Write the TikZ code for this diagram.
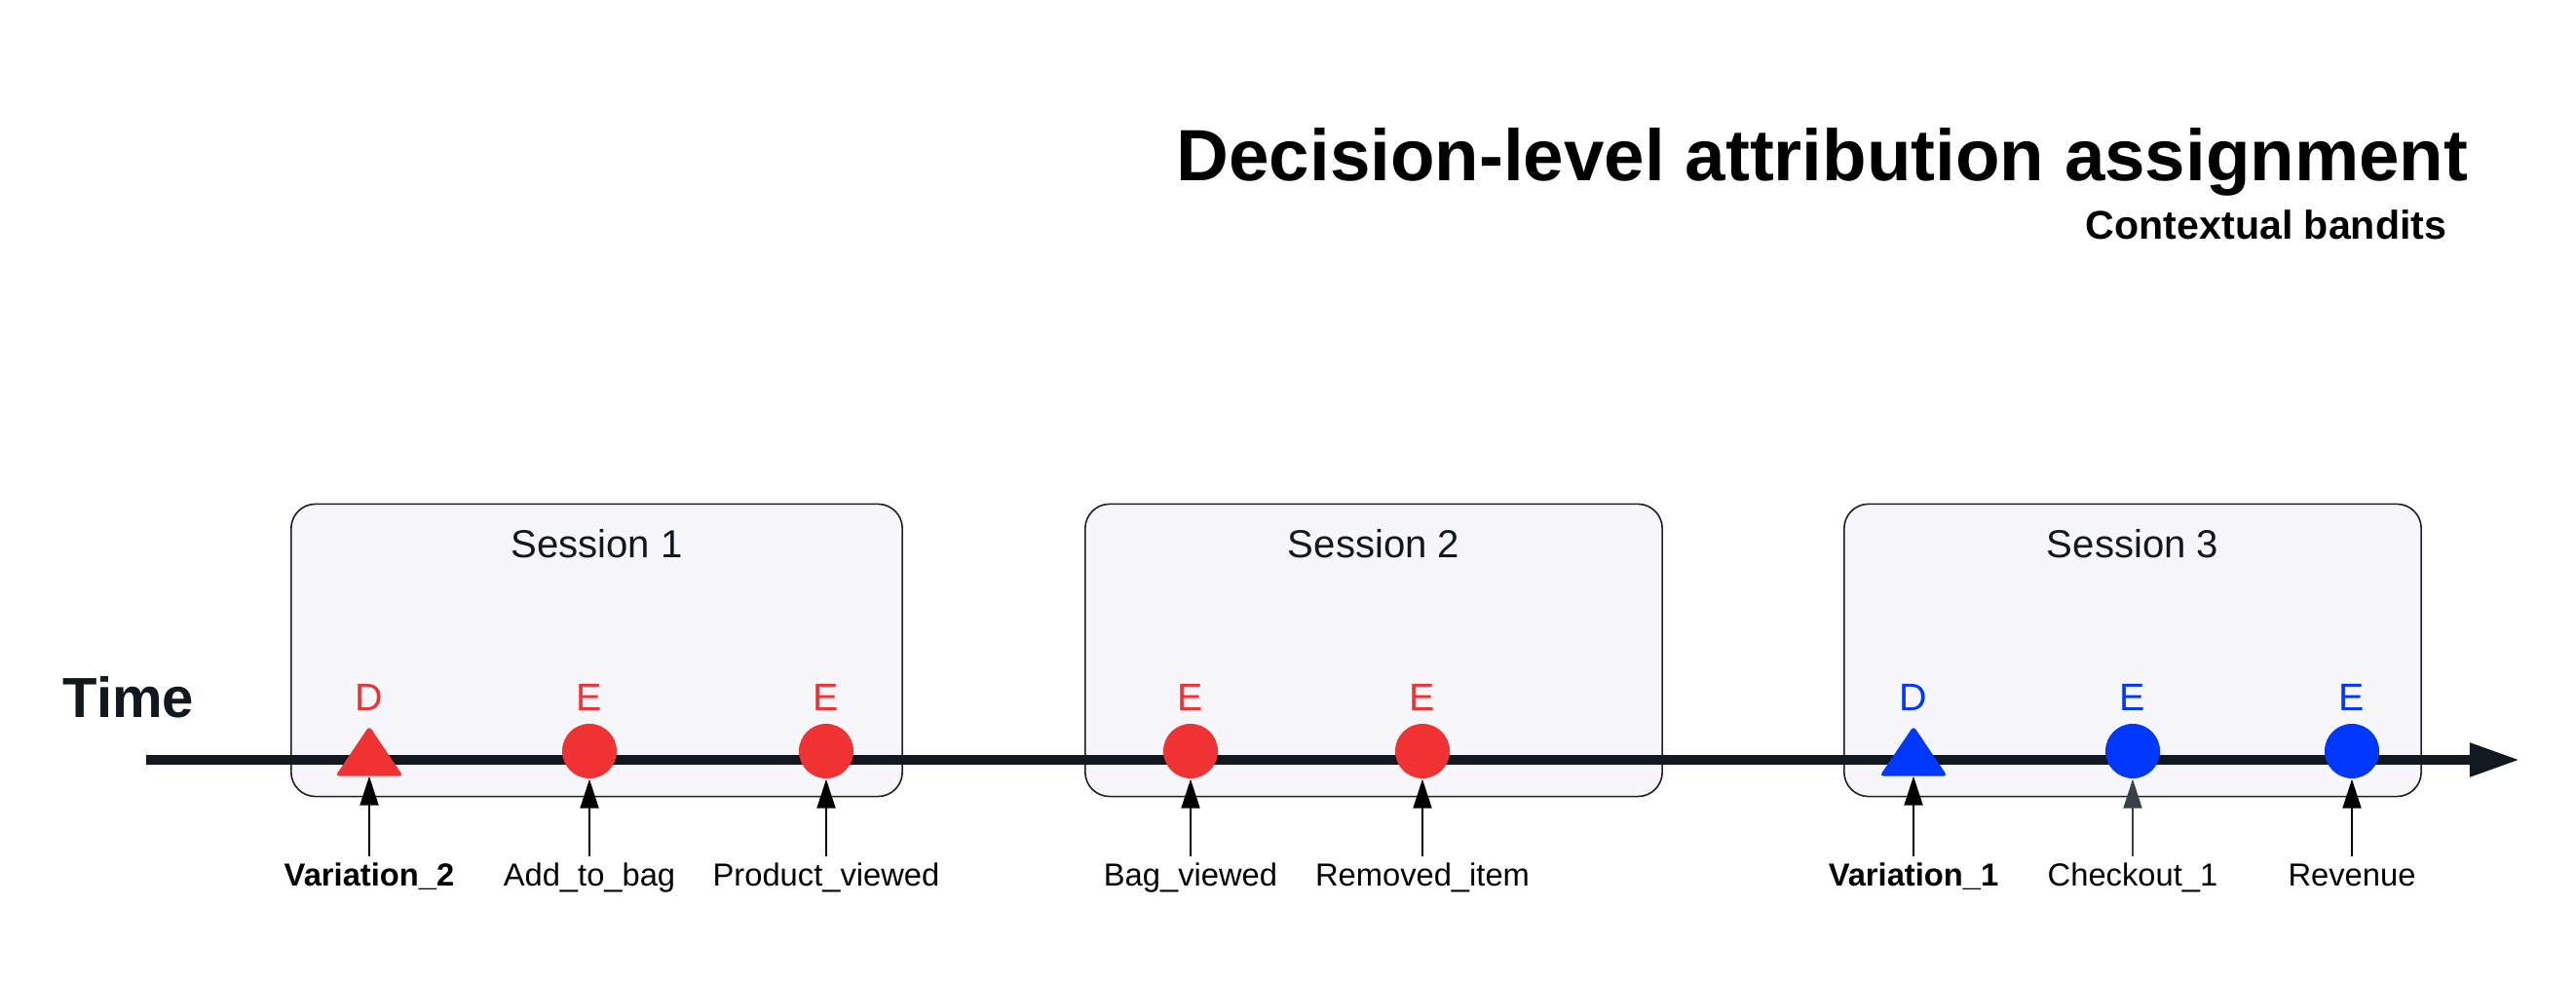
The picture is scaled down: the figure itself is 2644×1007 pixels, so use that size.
\documentclass[tikz,border=0pt]{standalone}
\usepackage{fontspec}
\setmainfont{Liberation Sans}
\usetikzlibrary{arrows.meta}

\definecolor{evred}{RGB}{240,50,50}
\definecolor{evblue}{RGB}{0,56,255}
\definecolor{inkdark}{RGB}{17,24,32}
\definecolor{boxline}{RGB}{30,30,40}
\definecolor{boxfill}{RGB}{247,247,251}
\definecolor{arrgray}{RGB}{58,65,74}

\tikzset{
  sessbox/.style={draw=boxline, fill=boxfill, line width=0.45pt, rounded corners=0.25cm, minimum height=3cm, inner sep=0},
  sesslbl/.style={font=\fontsize{11.4}{13}\selectfont, text=inkdark, anchor=base},
  evdot/.style={circle, fill=#1, minimum size=0.56cm, inner sep=0},
  decbox/.style={minimum width=0.68cm, minimum height=0.5cm, inner sep=0},
  evletter/.style={font=\fontsize{11.2}{13}\selectfont, text=#1, inner sep=0},
  evlbl/.style={font=\fontsize{9.3}{11}\selectfont, anchor=base, text height=0.75em, text depth=0.25em, inner sep=1pt},
  evlblb/.style={evlbl, font=\fontsize{9.3}{11}\selectfont\bfseries},
  evarrow/.style={-{Triangle[length=0.3cm,width=0.19cm]}, line width=0.57pt},
}

\begin{document}
\begin{tikzpicture}[x=0.01cm, y=0.01cm, node distance=0.55cm]
        \useasboundingbox (0,0) rectangle (2644,-1007);

        \node [anchor=base west, inner sep=0, font=\fontsize{21.2}{25}\selectfont\bfseries] (title) at (1207,-186) {Decision-level attribution assignment};
        \node [anchor=base east, inner sep=0, font=\fontsize{11.7}{14}\selectfont\bfseries] (sub) at (2512,-246) {Contextual bandits};
        \node [anchor=base west, inner sep=0, text=inkdark, font=\fontsize{16.5}{19}\selectfont\bfseries] (time) at (64,-737) {Time};

        % sessions
        \node [sessbox, minimum width=6.27cm] (s1) at (612.5,-667.5) {};
        \node [sessbox, minimum width=5.92cm] (s2) at (1410,-667.5) {};
        \node [sessbox, minimum width=5.92cm] (s3) at (2189,-667.5) {};
        \node [sesslbl] (t1) at ([yshift=-0.56cm]s1.north) {Session 1};
        \node [sesslbl] (t2) at ([yshift=-0.56cm]s2.north) {Session 2};
        \node [sesslbl] (t3) at ([yshift=-0.56cm]s3.north) {Session 3};

        % time axis
        \coordinate (tstart) at (150,-780);
        \coordinate (tend) at (2587,-780);
        \draw [inkdark, line width=3.1pt, -{Triangle[length=0.52cm,width=0.32cm]}] (tstart) -- (tend);

        % decisions and events
        \node [decbox] (m1) at (379,-771) {};
        \fill [evred, rounded corners=0.04cm] (m1.south west) -- (m1.north) -- (m1.south east) -- cycle;
        \node [evdot=evred] (m2) at (605,-771) {};
        \node [evdot=evred] (m3) at (848,-771) {};
        \node [evdot=evred] (m4) at (1222,-771) {};
        \node [evdot=evred] (m5) at (1460,-771) {};
        \node [decbox] (m6) at (1964,-771) {};
        \fill [evblue, rounded corners=0.04cm] (m6.south west) -- (m6.north) -- (m6.south east) -- cycle;
        \node [evdot=evblue] (m7) at (2189,-771) {};
        \node [evdot=evblue] (m8) at (2414,-771) {};

        \node [evletter=evred, above of=m1] (c1) {D};
        \node [evletter=evred, above of=m2] (c2) {E};
        \node [evletter=evred, above of=m3] (c3) {E};
        \node [evletter=evred, above of=m4] (c4) {E};
        \node [evletter=evred, above of=m5] (c5) {E};
        \node [evletter=evblue, above of=m6] (c6) {D};
        \node [evletter=evblue, above of=m7] (c7) {E};
        \node [evletter=evblue, above of=m8] (c8) {E};

        \node [evlblb] (l1) at (379,-910) {Variation\_2};
        \node [evlbl] (l2) at (605,-910) {Add\_to\_bag};
        \node [evlbl] (l3) at (848,-910) {Product\_viewed};
        \node [evlbl] (l4) at (1222,-910) {Bag\_viewed};
        \node [evlbl] (l5) at (1460,-910) {Removed\_item};
        \node [evlblb] (l6) at (1964,-910) {Variation\_1};
        \node [evlbl] (l7) at (2189,-910) {Checkout\_1};
        \node [evlbl] (l8) at (2414,-910) {Revenue};

        \draw [evarrow] (l1) -- (m1);
        \draw [evarrow] (l2) -- (m2);
        \draw [evarrow] (l3) -- (m3);
        \draw [evarrow] (l4) -- (m4);
        \draw [evarrow] (l5) -- (m5);
        \draw [evarrow] (l6) -- (m6);
        \draw [evarrow, arrgray] (l7) -- (m7);
        \draw [evarrow] (l8) -- (m8);
      \end{tikzpicture}
\end{document}
